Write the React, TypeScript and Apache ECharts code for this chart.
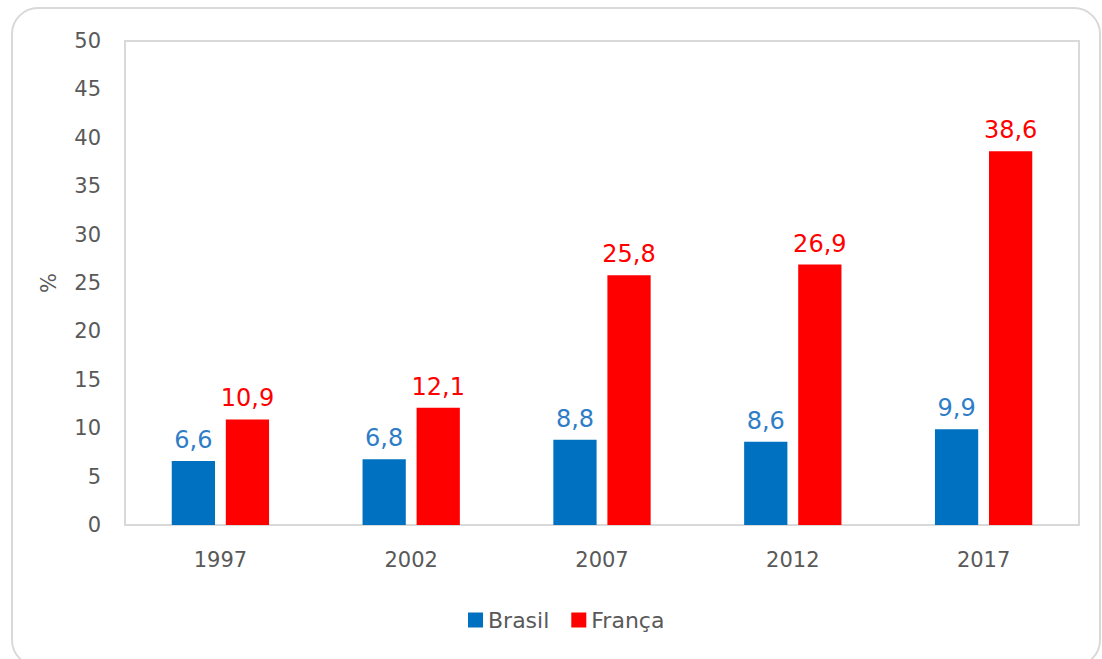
import React, { useEffect, useRef } from "react";
import * as echarts from "echarts";

const categories = ["1997", "2002", "2007", "2012", "2017"];
const brasil = [6.6, 6.8, 8.8, 8.6, 9.9];
const franca = [10.9, 12.1, 25.8, 26.9, 38.6];
const seriesNames = ["Brasil", "França"];
const yAxisName = "%";

const FONT = "'DejaVu Sans', 'Open Sans', sans-serif";

export default function App() {
  const ref = useRef<HTMLDivElement>(null);
  useEffect(() => {
    const chart = echarts.init(ref.current!, null, { renderer: "svg" });
    const fmt = (p: any) => String(p.value).replace(".", ",");
    chart.setOption({
      animation: false,
      backgroundColor: "#ffffff",
      textStyle: { fontFamily: FONT },
      graphic: [
        {
          type: "rect",
          shape: { x: 12, y: 8, width: 1088, height: 658, r: 26 },
          style: { fill: "none", stroke: "#d9d9d9", lineWidth: 2 },
          silent: true,
        },
      ],
      grid: {
        left: 125,
        right: 23,
        top: 41,
        bottom: 134,
        show: true,
        borderColor: "#d9d9d9",
        borderWidth: 2,
      },
      legend: {
        data: seriesNames,
        bottom: 23,
        left: 463,
        icon: "rect",
        itemWidth: 15,
        itemHeight: 15,
        itemGap: 22,
        itemTextGap: 9,
        textStyle: { fontSize: 22, color: "#595959", fontFamily: FONT },
      },
      xAxis: {
        type: "category",
        data: categories,
        axisLine: { show: false },
        axisTick: { show: false },
        axisLabel: { fontSize: 21, color: "#595959", margin: 24, fontFamily: FONT },
      },
      yAxis: {
        type: "value",
        min: 0,
        max: 50,
        interval: 5,
        name: yAxisName,
        nameLocation: "middle",
        nameGap: 66,
        nameRotate: 90,
        nameTextStyle: { fontSize: 21, color: "#595959", fontFamily: FONT },
        axisLine: { show: false },
        axisTick: { show: false },
        splitLine: { show: false },
        axisLabel: { fontSize: 21, color: "#595959", margin: 24, fontFamily: FONT },
      },
      series: [
        {
          name: seriesNames[0],
          type: "bar",
          data: brasil,
          barGap: "25%",
          barCategoryGap: "49%",
          itemStyle: { color: "#0070c0" },
          label: {
            show: true,
            position: "top",
            distance: 9,
            formatter: fmt,
            fontSize: 24,
            color: "#2e7dc6",
            fontFamily: FONT,
          },
        },
        {
          name: seriesNames[1],
          type: "bar",
          data: franca,
          barGap: "25%",
          barCategoryGap: "49%",
          itemStyle: { color: "#ff0000" },
          label: {
            show: true,
            position: "top",
            distance: 9,
            formatter: fmt,
            fontSize: 24,
            color: "#ff0000",
            fontFamily: FONT,
          },
        },
      ],
    });
    return () => chart.dispose();
  }, []);
  return (
    <div
      ref={ref}
      style={{ position: "fixed", left: 0, top: 0, width: 1102, height: 659, background: "#fff" }}
    />
  );
}
